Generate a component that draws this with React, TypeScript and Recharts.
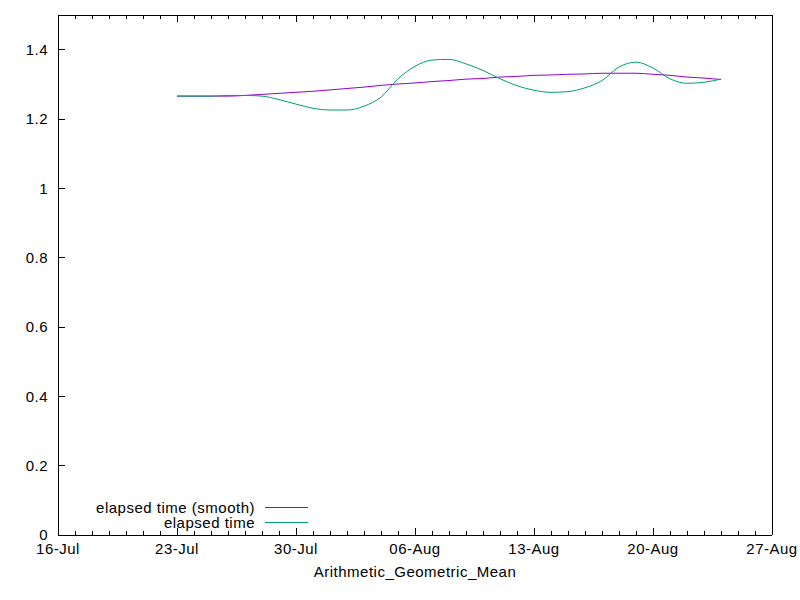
import { Legend, Line, LineChart, XAxis, YAxis } from "recharts"

// days counted from 16-Jul
const dayOffsets = [7, 8, 9, 10, 11, 12, 13, 14, 15, 16, 17, 18, 19, 20, 21, 22, 23, 24, 25, 26, 27, 28, 29, 30, 31, 32, 33, 34, 35, 36, 37, 38, 39]

const elapsedValues = [
  1.266, 1.266, 1.266, 1.268, 1.268, 1.266, 1.256, 1.243, 1.231, 1.226, 1.226, 1.237, 1.263, 1.316, 1.352, 1.37, 1.372,
  1.359, 1.34, 1.316, 1.296, 1.283, 1.277, 1.279, 1.29, 1.311, 1.35, 1.364, 1.347, 1.316, 1.303, 1.306, 1.315,
]

const smoothValues = [
  1.266, 1.266, 1.266, 1.266, 1.268, 1.271, 1.274, 1.277, 1.28, 1.284, 1.288, 1.292, 1.297, 1.301, 1.304, 1.308, 1.311,
  1.315, 1.317, 1.321, 1.323, 1.326, 1.327, 1.329, 1.33, 1.332, 1.332, 1.332, 1.329, 1.326, 1.321, 1.318, 1.314,
]

const seriesNames = ["elapsed time (smooth)", "elapsed time"]
const majorTickDays = [0, 7, 14, 21, 28, 35, 42]
const majorTickLabels = ["16-Jul", "23-Jul", "30-Jul", "06-Aug", "13-Aug", "20-Aug", "27-Aug"]
const dayTicks = Array.from({ length: 43 }, (_, i) => i)
const yTicks = [0, 0.2, 0.4, 0.6, 0.8, 1, 1.2, 1.4]

const rows = dayOffsets.map((d, i) => ({ d, smooth: smoothValues[i], elapsed: elapsedValues[i] }))

const FONT = "'Liberation Sans', Arial, sans-serif"
const FONT_SIZE = 15
const SPACING = 0.5
const PURPLE = "#9400D3"
const GREEN = "#009E73"

function fmtY(v: number) {
  return String(Number(v.toFixed(1)))
}

function XTick({ x, y, payload, top }: any) {
  const idx = majorTickDays.indexOf(payload.value)
  const len = idx >= 0 ? 7 : 4
  const dir = top ? 1 : -1
  return (
    <g>
      <line x1={x} y1={y} x2={x} y2={y + dir * len} stroke="#000" shapeRendering="crispEdges" />
      {!top && idx >= 0 && (
        <text x={x} y={y + 14} dy="0.355em" textAnchor="middle" fill="#000" fontSize={FONT_SIZE} fontFamily={FONT} letterSpacing={SPACING}>
          {majorTickLabels[idx]}
        </text>
      )}
    </g>
  )
}

function YTick({ x, y, payload, right }: any) {
  const dir = right ? -1 : 1
  return (
    <g>
      <line x1={x} y1={y} x2={x + dir * 7} y2={y} stroke="#000" shapeRendering="crispEdges" />
      {!right && (
        <text x={x - 10} y={y} dy="0.355em" textAnchor="end" fill="#000" fontSize={FONT_SIZE} fontFamily={FONT} letterSpacing={SPACING}>
          {fmtY(payload.value)}
        </text>
      )}
    </g>
  )
}

function KeyBox({ payload }: any) {
  const items = [...(payload || [])].sort((a: any, b: any) => seriesNames.indexOf(a.value) - seriesNames.indexOf(b.value))
  return (
    <div style={{ fontFamily: FONT, fontSize: FONT_SIZE, letterSpacing: SPACING, color: "#000", lineHeight: "15px" }}>
      {items.map((p: any) => (
        <div key={p.value} style={{ display: "flex", alignItems: "center", height: 15 }}>
          <span style={{ width: 255, textAlign: "right", whiteSpace: "nowrap" }}>{p.value}</span>
          <span style={{ marginLeft: 10, width: 43, height: 0, borderTop: `1px solid ${p.color}` }} />
        </div>
      ))}
    </div>
  )
}

export default function App() {
  return (
    <div style={{ position: "absolute", left: 0, top: 0, width: 800, height: 600, background: "#fff" }}>
      <LineChart width={800} height={600} data={rows} margin={{ top: 0, right: 0, left: 0, bottom: 0 }}>
        <XAxis
          dataKey="d"
          type="number"
          domain={[0, 42]}
          ticks={dayTicks}
          interval={0}
          height={65}
          tickSize={0}
          tickMargin={0}
          tickLine={false}
          tick={<XTick />}
          axisLine={{ stroke: "#000", shapeRendering: "crispEdges" }}
          label={{ value: "Arithmetic_Geometric_Mean", position: "insideTop", offset: 31, fill: "#000", fontSize: FONT_SIZE, fontFamily: FONT, letterSpacing: SPACING }}
        />
        <XAxis
          xAxisId="top"
          orientation="top"
          dataKey="d"
          type="number"
          domain={[0, 42]}
          ticks={dayTicks}
          interval={0}
          height={15}
          tickSize={0}
          tickMargin={0}
          tickLine={false}
          tick={<XTick top />}
          axisLine={{ stroke: "#000", shapeRendering: "crispEdges" }}
        />
        <YAxis
          type="number"
          domain={[0, 1.5]}
          ticks={yTicks}
          interval={0}
          width={58}
          tickSize={0}
          tickMargin={0}
          tickLine={false}
          tick={<YTick />}
          axisLine={{ stroke: "#000", shapeRendering: "crispEdges" }}
        />
        <YAxis
          yAxisId="right"
          orientation="right"
          type="number"
          domain={[0, 1.5]}
          ticks={yTicks}
          interval={0}
          width={28}
          tickSize={0}
          tickMargin={0}
          tickLine={false}
          tick={<YTick right />}
          axisLine={{ stroke: "#000", shapeRendering: "crispEdges" }}
        />
        <Legend
          layout="horizontal"
          verticalAlign="middle"
          align="center"
          content={<KeyBox />}
          wrapperStyle={{ position: "absolute", left: 0, top: 500, width: 320 }}
        />
        <Line
          type="monotone"
          dataKey="smooth"
          name={seriesNames[0]}
          stroke={PURPLE}
          strokeWidth={1}
          dot={false}
          activeDot={false}
          isAnimationActive={false}
        />
        <Line
          type="monotone"
          dataKey="elapsed"
          name={seriesNames[1]}
          stroke={GREEN}
          strokeWidth={1}
          dot={false}
          activeDot={false}
          isAnimationActive={false}
        />
      </LineChart>
    </div>
  )
}
